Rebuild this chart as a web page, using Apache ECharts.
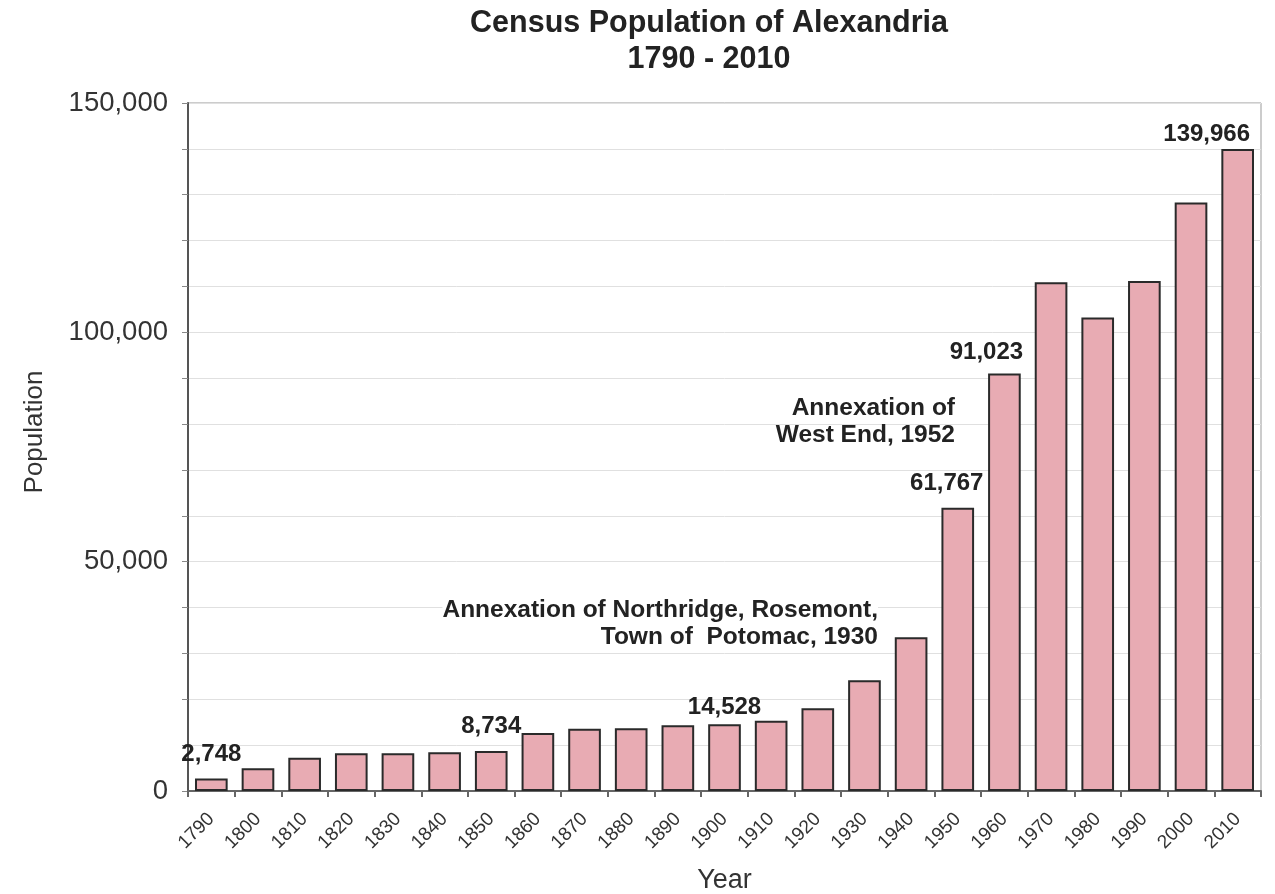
<!DOCTYPE html>
<html>
<head>
<meta charset="utf-8">
<script src="https://cdn.jsdelivr.net/npm/echarts@6/dist/echarts.min.js"></script>
<style>
html, body { margin: 0; padding: 0; background: #fff; }
#chart { width: 1275px; height: 894px; }
</style>
</head>
<body>
<div id="chart"></div>
<script>
// census years
const years = ["1790", "1800", "1810", "1820", "1830", "1840", "1850", "1860", "1870", "1880", "1890", "1900",
  "1910", "1920", "1930", "1940", "1950", "1960", "1970", "1980", "1990", "2000", "2010"];
// population
const population = [2748, 4971, 7227, 8218, 8241, 8459, 8734, 12652, 13570, 13659, 14339, 14528,
  15329, 18060, 24149, 33523, 61767, 91023, 110938, 103217, 111183, 128283, 139966];
const yTicks = [0, 50000, 100000, 150000];
// bars that carry a value label, with a small [dx, dy] nudge for each
const labelOffsets = {
  "1790": [0, -4], "1850": [0, -5], "1900": [0, 3],
  "1950": [-11, -4], "1960": [-18, -1], "2010": [-31, 5]
};

const chart = echarts.init(document.getElementById("chart"));

const fmt = v => v.toLocaleString("en-US");

const data = population.map((v, i) => {
  const y = years[i];
  const item = { value: v };
  if (labelOffsets[y]) {
    item.label = {
      show: true,
      position: "top",
      offset: [labelOffsets[y][0], labelOffsets[y][1] - 3],
      formatter: p => fmt(p.value),
      fontFamily: "Liberation Sans",
      fontWeight: "bold",
      fontSize: 24,
      color: "#222"
    };
  }
  return item;
});

const noteStyle = {
  align: "right",
  verticalAlign: "top",
  fontFamily: "Liberation Sans",
  fontWeight: "bold",
  fontSize: 24.5,
  lineHeight: 27,
  fill: "#222"
};

const option = {
  backgroundColor: "#fff",
  title: {
    text: "Census Population of Alexandria\n1790 - 2010",
    left: 704,
    textAlign: "center",
    top: 1,
    textStyle: {
      fontFamily: "Liberation Sans",
      fontWeight: "bold",
      fontSize: 30.5,
      lineHeight: 36,
      color: "#222"
    }
  },
  grid: {
    left: 188,
    right: 14,
    top: 103,
    bottom: 103,
    outerBoundsMode: "none",
    show: true,
    borderColor: "#999",
    borderWidth: 1
  },
  xAxis: {
    type: "category",
    data: years,
    name: "Year",
    nameLocation: "middle",
    nameGap: 76,
    nameTextStyle: { fontFamily: "Liberation Sans", fontSize: 27, color: "#333" },
    axisLine: { lineStyle: { color: "#666", width: 2 } },
    axisTick: { show: true, length: 6, lineStyle: { color: "#666", width: 2 } },
    axisLabel: {
      rotate: 45,
      interval: 0,
      fontFamily: "Liberation Sans",
      fontSize: 19,
      color: "#333",
      margin: 25
    }
  },
  yAxis: {
    type: "value",
    min: 0,
    max: 150000,
    interval: 10000,
    name: "Population",
    nameLocation: "middle",
    nameGap: 140,
    nameTextStyle: { fontFamily: "Liberation Sans", fontSize: 26, color: "#333", padding: [0, 0, 0, 30] },
    axisLine: { show: true, lineStyle: { color: "#555", width: 2 } },
    axisTick: { show: true, length: 6, lineStyle: { color: "#888" } },
    splitLine: { lineStyle: { color: "#e0e0e0", width: 1 } },
    axisLabel: {
      fontFamily: "Liberation Sans",
      fontSize: 27.5,
      color: "#333",
      margin: 20,
      formatter: v => (yTicks.indexOf(v) >= 0 ? fmt(v) : "")
    }
  },
  series: [{
    type: "bar",
    data: data,
    barCategoryGap: "30%",
    itemStyle: {
      color: "#e8abb3",
      borderColor: "#2a2a2a",
      borderWidth: 2
    }
  }],
  graphic: [
    {
      type: "text",
      x: 878,
      y: 597,
      z: 100,
      style: Object.assign({}, noteStyle, {
        text: "{a|Annexation of Northridge, Rosemont,}\n{b|Town of  Potomac, 1930}",
        rich: {
          a: { backgroundColor: "#fff", lineHeight: 27, fontSize: 24.5, fontWeight: "bold", fontFamily: "Liberation Sans", color: "#222" },
          b: { lineHeight: 27, fontSize: 24.5, fontWeight: "bold", fontFamily: "Liberation Sans", color: "#222" }
        }
      })
    },
    {
      type: "text",
      x: 955,
      y: 395,
      z: 100,
      style: Object.assign({ text: "Annexation of\nWest End, 1952" }, noteStyle)
    }
  ]
};

chart.setOption(option);
</script>
</body>
</html>
